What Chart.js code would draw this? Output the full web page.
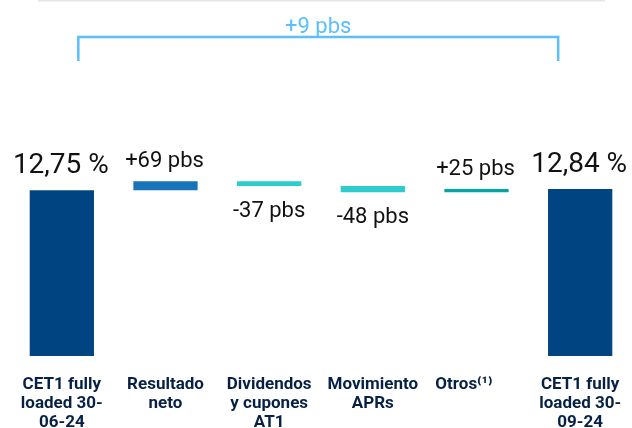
<!DOCTYPE html>
<html>
<head>
<meta charset="utf-8">
<script src="https://cdn.jsdelivr.net/npm/chart.js@4.4.0/dist/chart.umd.min.js"></script>
<style>
  html, body { margin: 0; padding: 0; background: #fff; overflow: hidden; }
  #wrap { width: 632px; height: 428px; overflow: hidden; }
</style>
</head>
<body>
<div id="wrap"><canvas id="chart" width="632" height="432"></canvas></div>
<script>
// CET1 fully loaded waterfall (%, changes in pbs)
const categories = [
  ['CET1 fully', 'loaded 30-', '06-24'],
  ['Resultado', 'neto'],
  ['Dividendos', 'y cupones', 'AT1'],
  ['Movimiento', 'APRs'],
  ['Otros\u207D\u00B9\u207E      '],
  ['CET1 fully', 'loaded 30-', '09-24']
];
const ratioStart = 12.75;
const ratioEnd = 12.84;
const deltasPbs = [69, -37, -48, 25];

const barColors = ['#004481', '#1973B8', '#2DCCCD', '#2DCCCD', '#02A5A5', '#004481'];

// build floating bars from the running total
const bars = [[0, ratioStart]];
let running = ratioStart;
deltasPbs.forEach(d => {
  const next = Math.round((running + d / 100) * 100) / 100;
  bars.push([running, next]);
  running = next;
});
bars.push([0, ratioEnd]);

const fmtPct = v => v.toFixed(2).replace('.', ',') + ' %';
const fmtPbs = v => (v > 0 ? '+' : '') + v + ' pbs';
const barLabels = [fmtPct(ratioStart), ...deltasPbs.map(fmtPbs), fmtPct(ratioEnd)];

const annotations = {
  id: 'annotations',
  afterDatasetsDraw(chart) {
    const { ctx, chartArea } = chart;
    const meta = chart.getDatasetMeta(0);
    ctx.save();

    // value labels
    meta.data.forEach((bar, i) => {
      const isTotal = i === 0 || i === meta.data.length - 1;
      const top = Math.min(bar.y, bar.base);
      const bottom = Math.max(bar.y, bar.base);
      ctx.fillStyle = '#121212';
      ctx.textAlign = 'center';
      ctx.textBaseline = 'alphabetic';
      if (isTotal) {
        ctx.font = '28px Roboto';
        ctx.fillText(barLabels[i], bar.x - 1, top - 17);
      } else {
        ctx.font = '22px Roboto';
        if (deltasPbs[i - 1] > 0) ctx.fillText(barLabels[i], bar.x - 1, top - 14);
        else ctx.fillText(barLabels[i], bar.x, bottom + 31);
      }
    });

    // top rule
    ctx.strokeStyle = '#e6e6e6';
    ctx.lineWidth = 1.5;
    ctx.beginPath();
    ctx.moveTo(38, 0.75);
    ctx.lineTo(605, 0.75);
    ctx.stroke();

    // bracket for total change
    const x = chart.scales.x;
    const xl = x.getPixelForValue(0) + 16.5;
    const xr = x.getPixelForValue(categories.length - 1) - 22;
    const yTop = chartArea.top + 19;
    const yEnd = chartArea.top + 43;
    ctx.strokeStyle = '#5BBEFF';
    ctx.lineWidth = 2.5;
    ctx.lineJoin = 'miter';
    ctx.beginPath();
    ctx.moveTo(xl, yEnd);
    ctx.lineTo(xl, yTop);
    ctx.lineTo(xr, yTop);
    ctx.lineTo(xr, yEnd);
    ctx.stroke();

    const totalPbs = Math.round((ratioEnd - ratioStart) * 100);
    ctx.fillStyle = '#5BBEFF';
    ctx.font = '22px Roboto';
    ctx.textAlign = 'center';
    ctx.fillText(fmtPbs(totalPbs), (xl + xr) / 2, yTop - 4);
    ctx.restore();
  }
};

new Chart(document.getElementById('chart'), {
  type: 'bar',
  data: {
    labels: categories,
    datasets: [{
      data: bars,
      backgroundColor: barColors,
      borderWidth: 0,
      barPercentage: 0.62,
      categoryPercentage: 1
    }]
  },
  options: {
    responsive: false,
    animation: false,
    layout: { padding: { left: 10, right: 0, top: 18, bottom: 0 } },
    plugins: { legend: { display: false }, tooltip: { enabled: false } },
    scales: {
      x: {
        grid: { display: false, drawTicks: false },
        border: { display: false },
        afterFit(scale) {
          scale.paddingLeft = 0;
          scale.paddingRight = 0;
          scale.height = 76;
        },
        ticks: {
          padding: 19,
          maxRotation: 0,
          autoSkip: false,
          color: '#072146',
          font: { family: 'Roboto', size: 17, weight: 'bold', lineHeight: 1.135 }
        }
      },
      y: { display: false, min: 0, max: 26 }
    }
  },
  plugins: [annotations]
});
</script>
</body>
</html>
